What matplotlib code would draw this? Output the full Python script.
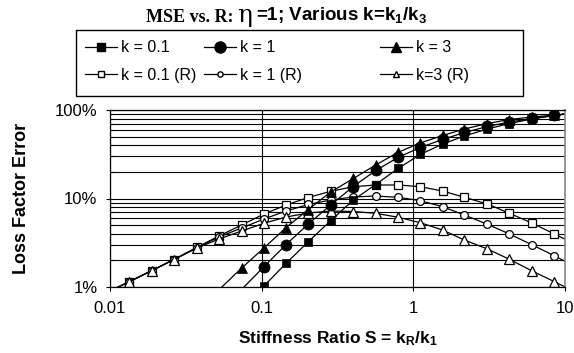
import numpy as np
import matplotlib
matplotlib.use("Agg")
import matplotlib.pyplot as plt
from matplotlib.lines import Line2D
from matplotlib.patches import Rectangle
from matplotlib.ticker import FixedLocator, FixedFormatter, NullLocator, LogLocator, NullFormatter

plt.rcParams["font.family"] = ["Liberation Sans", "DejaVu Sans"]
plt.rcParams["mathtext.default"] = "regular"

# stiffness ratio S (first and last points lie outside the axis range)
S = [0.00954, 0.0134, 0.0188, 0.0264, 0.0372, 0.0523, 0.0738, 0.1035, 0.145, 0.203,
     0.285, 0.402, 0.565, 0.796, 1.11, 1.56, 2.17, 3.08, 4.30, 6.04, 8.51, 11.96]

# loss factor error, %
err_k01 = [np.nan, np.nan, np.nan, np.nan, np.nan, 0.32, 0.57, 1.026, 1.853, 3.25,
           5.61, 9.62, 14.39, 21.94, 31.42, 41.28, 50.84, 60.99, 70.37, 79.11, 86.69, 93.7]
err_k1 = [np.nan, np.nan, np.nan, np.nan, np.nan, 0.52, 0.94, 1.696, 3.02, 5.15,
          8.44, 13.66, 20.72, 29.22, 37.70, 46.42, 55.69, 65.10, 73.17, 80.17, 86.69, 93.7]
err_k3 = [np.nan, np.nan, np.nan, np.nan, 0.53, 0.93, 1.640, 2.759, 4.702, 7.51,
          11.84, 16.83, 23.91, 33.37, 42.38, 51.51, 60.99, 70.37, 78.09, 83.35, 87.5, 93.7]
err_k01_R = [0.867, 1.148, 1.528, 2.045, 2.795, 3.770, 5.020, 6.681, 8.444, 10.26,
             12.06, 13.59, 14.21, 14.21, 13.59, 12.15, 10.31, 8.668, 6.803, 5.287, 3.971, 2.983]
err_k1_R = [0.867, 1.148, 1.528, 2.045, 2.773, 3.673, 4.642, 5.867, 7.222, 8.556,
            9.617, 10.40, 10.67, 10.31, 9.444, 8.081, 6.509, 5.111, 3.971, 3.006, 2.252, 1.661]
err_k3_R = [0.867, 1.148, 1.528, 2.045, 2.737, 3.485, 4.294, 5.245, 6.180, 6.858,
            7.222, 7.130, 6.803, 6.131, 5.329, 4.406, 3.397, 2.688, 2.056, 1.524, 1.148, 0.867]

labels = ["k = 0.1", "k = 1", "k = 3", "k = 0.1 (R)", "k = 1 (R)", "k=3 (R)"]
x_ticks = [0.01, 0.1, 1, 10]
x_ticklabels = ["0.01", "0.1", "1", "10"]
y_ticks = [1, 10, 100]
y_ticklabels = ["1%", "10%", "100%"]

fig = plt.figure(figsize=(5.74, 3.53), dpi=100)
ax = fig.add_axes([110 / 574, 1 - 287 / 353, 455 / 574, 177 / 353])


def visible(ys):
    ys = np.asarray(ys, dtype=float)
    xs = np.asarray(S)
    return list((xs >= 0.01) & (xs <= 10) & (ys >= 1) & (ys <= 100) & ~np.isnan(ys))


open_styles = [("s", 6.0), ("o", 5.6), ("^", 7.2)]
filled_styles = [("s", 5.4), ("o", 8.0), ("^", 6.8)]

for ys, (m, ms) in zip([err_k01_R, err_k1_R, err_k3_R], open_styles):
    ax.plot(S, ys, color="black", lw=0.9, marker=m, ms=ms, mfc="white", mec="black",
            mew=0.9, markevery=visible(ys))
for ys, (m, ms) in zip([err_k01, err_k1, err_k3], filled_styles):
    ax.plot(S, ys, color="black", lw=0.9, marker=m, ms=ms, mfc="black", mec="black",
            mew=0.5, markevery=visible(ys))

ax.set_xscale("log")
ax.set_yscale("log")
ax.set_xlim(0.01, 10)
ax.set_ylim(1, 100)
ax.xaxis.set_major_locator(FixedLocator(x_ticks))
ax.xaxis.set_major_formatter(FixedFormatter(x_ticklabels))
ax.xaxis.set_minor_locator(NullLocator())
ax.yaxis.set_major_locator(FixedLocator(y_ticks))
ax.yaxis.set_major_formatter(FixedFormatter(y_ticklabels))
ax.yaxis.set_minor_locator(LogLocator(base=10, subs=np.arange(2, 10)))
ax.yaxis.set_minor_formatter(NullFormatter())

ax.grid(which="major", axis="both", color="black", lw=0.8)
ax.grid(which="minor", axis="y", color="black", lw=0.8)
ax.set_axisbelow(True)

ax.tick_params(axis="both", which="major", direction="out", length=3, width=0.8,
               labelsize=12)
ax.tick_params(axis="x", which="major", pad=7)
ax.tick_params(axis="y", which="major", pad=6)
ax.tick_params(axis="y", which="minor", direction="in", length=2.5, width=0.8)
for side in ["left", "bottom", "top"]:
    ax.spines[side].set_color("black")
    ax.spines[side].set_linewidth(0.9)
ax.spines["right"].set_color("#888888")
ax.spines["right"].set_linewidth(1.2)

ax.set_xlabel("Stiffness Ratio S = k$_R$/k$_1$", fontsize=12.5, fontweight="bold")
ax.xaxis.set_label_coords(0.5, (287 - 339) / 177)
ax.xaxis.label.set_va("center")
ax.set_ylabel("Loss Factor Error", fontsize=13, fontweight="bold")
ax.yaxis.set_label_coords((22 - 110) / 455, 0.5)
ax.yaxis.label.set_va("center")

# title in three fonts, pieces placed one after the other
t1 = fig.text(146 / 574, 1 - 22 / 353, "MSE vs. R:", family="Liberation Serif",
              fontweight="bold", fontsize=13, va="baseline", ha="left")
t2 = ax.annotate("η", xy=(1, 0), xycoords=t1, xytext=(2.5, -1), textcoords="offset points",
                 family="DejaVu Serif", fontsize=18, va="bottom", ha="left",
                 annotation_clip=False)
t3 = ax.annotate("=1; Various k=k$_1$/k$_3$", xy=(1, 0), xycoords=t2, xytext=(3, 1.5),
                 textcoords="offset points", fontweight="bold", fontsize=13.5,
                 va="bottom", ha="left", annotation_clip=False)

# legend: frame plus three columns
fig.add_artist(Rectangle((76 / 574, 1 - 96 / 353), 447 / 574, 66 / 353,
                         transform=fig.transFigure, fill=False, ec="black", lw=1))
col_x = [85, 204, 380]
leg_sizes = [(("s", 5.4), ("s", 4.2)), (("o", 8.0), ("o", 3.8)), (("^", 6.8), ("^", 5.0))]
for i in range(3):
    (mf, sf), (mo, so) = leg_sizes[i]
    h1 = Line2D([], [], color="black", lw=0.9, marker=mf, ms=sf, mfc="black", mec="black")
    h2 = Line2D([], [], color="black", lw=0.9, marker=mo, ms=so, mfc="white", mec="black")
    fig.legend([h1, h2], [labels[i], labels[i + 3]], loc="center left",
               bbox_to_anchor=(col_x[i] / 574, 1 - 61.5 / 353), frameon=False,
               borderpad=0, borderaxespad=0, handlelength=2.0, handletextpad=0.25,
               labelspacing=0.8, fontsize=11.5, numpoints=1)

fig.savefig("out.png", dpi=100)
